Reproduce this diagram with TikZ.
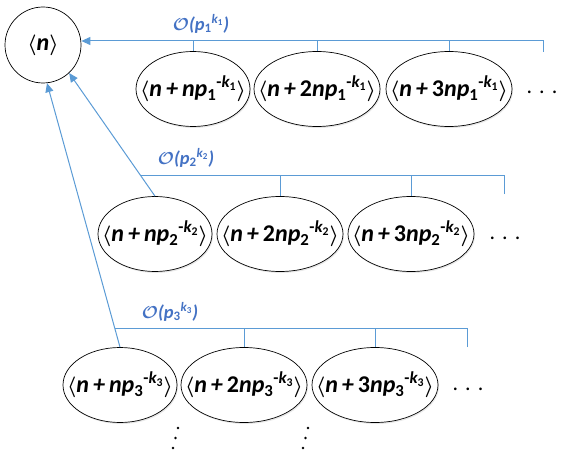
\documentclass[tikz,border=0pt]{standalone}
\usepackage{fontspec}
\setmainfont{Carlito}
\usepackage{amsmath}
\usetikzlibrary{shapes.geometric,arrows.meta,shadows}
\definecolor{lineblue}{RGB}{91,155,213}
\definecolor{textblue}{RGB}{68,114,196}
\newcommand{\lan}{{\fontsize{20}{24}\selectfont\boldmath$\langle$}}
\newcommand{\ran}{{\fontsize{20}{24}\selectfont\boldmath$\rangle$}}
\newcommand{\pki}[1]{\textit{p}\textsubscript{\textup{#1}}\textsuperscript{\textup{-}\textit{k}\textsubscript{\textup{#1}}}}
\newcommand{\opk}[1]{{\boldmath$\mathcal{O}$}(\textit{p}\textsubscript{\textup{#1}}\textsuperscript{\textit{k}\textsubscript{\textup{#1}}})}
\begin{document}
\begin{tikzpicture}[x=1pt,y=-1pt,
  ell/.style={ellipse,draw=black,line width=0.7pt,fill=white,inner sep=0pt,
    drop shadow={opacity=0.18,shadow xshift=1pt,shadow yshift=-1.5pt}},
  small/.style={ell,minimum width=114pt,minimum height=75pt},
  wide/.style={ell,minimum width=126pt,minimum height=75pt},
  txt/.style={inner sep=0pt,font=\fontsize{24}{28}\selectfont\bfseries\itshape},
  lbl/.style={inner sep=0pt,text=textblue,font=\fontsize{18.5}{22}\selectfont\bfseries\itshape},
  conn/.style={draw=lineblue,line width=1pt},
  arr/.style={conn,-{Triangle[length=9pt,width=8pt]}},
  dotsn/.style={inner sep=0pt,font=\fontsize{22}{26}\selectfont}
]
\useasboundingbox (0,0) rectangle (573,476);

% main circle
\node[circle,draw=black,line width=0.7pt,minimum size=76pt,inner sep=0pt] (n) at (43,45) {};
\node[txt] (nt) at (n) {\lan\textit{n}\ran};

% row 1
\node[small] (a1) at (193,89) {};
\node[wide]  (a2) at (317,89) {};
\node[wide]  (a3) at (449,89) {};
\node[txt] (a1t) at (a1) {\lan\textit{n}\,+\,\textit{n}\pki{1}\ran};
\node[txt] (a2t) at (a2) {\lan\textit{n}\,+\,\textup{2}\textit{n}\pki{1}\ran};
\node[txt] (a3t) at (a3) {\lan\textit{n}\,+\,\textup{3}\textit{n}\pki{1}\ran};
\node[dotsn] (a4) at (542,92) {.\hspace{7pt}.\hspace{7pt}.};
\node[lbl] (l1) at (201,24) {\opk{1}};
\coordinate (r1t) at (543,52);
\coordinate (r1e) at (543,41);
\draw[arr] (r1t) -- (r1e) -- (n.east |- r1e);
\foreach \e in {a1,a2,a3} \draw[conn] (\e.north) -- (\e.north |- r1e);

% row 2
\node[small] (b1) at (155,234) {};
\node[wide]  (b2) at (280,234) {};
\node[wide]  (b3) at (411,234) {};
\node[txt] (b1t) at (b1) {\lan\textit{n}\,+\,\textit{n}\pki{2}\ran};
\node[txt] (b2t) at (b2) {\lan\textit{n}\,+\,\textup{2}\textit{n}\pki{2}\ran};
\node[txt] (b3t) at (b3) {\lan\textit{n}\,+\,\textup{3}\textit{n}\pki{2}\ran};
\node[dotsn] (b4) at (505,238) {.\hspace{7pt}.\hspace{7pt}.};
\node[lbl] (l2) at (186,158) {\opk{2}};
\coordinate (r2t) at (504,194);
\coordinate (r2e) at (504,175);
\coordinate (h2s) at (141,175);
\draw[arr] (b1.north) -- (n.-47);
\draw[conn] (r2t) -- (r2e) -- (h2s);
\foreach \e in {b2,b3} \draw[conn] (\e.north) -- (\e.north |- r2e);

% row 3
\node[small] (c1) at (120,385) {};
\node[wide]  (c2) at (244,385) {};
\node[wide]  (c3) at (375,385) {};
\node[txt] (c1t) at (c1) {\lan\textit{n}\,+\,\textit{n}\pki{3}\ran};
\node[txt] (c2t) at (c2) {\lan\textit{n}\,+\,\textup{2}\textit{n}\pki{3}\ran};
\node[txt] (c3t) at (c3) {\lan\textit{n}\,+\,\textup{3}\textit{n}\pki{3}\ran};
\node[dotsn] (c4) at (468,389) {.\hspace{7pt}.\hspace{7pt}.};
\node[lbl] (l3) at (170,312) {\opk{3}};
\coordinate (r3t) at (467,347);
\coordinate (r3e) at (467,328);
\coordinate (h3s) at (114.5,328);
\draw[arr] (c1.north) -- (n.-84);
\draw[conn] (r3t) -- (r3e) -- (h3s);
\foreach \e in {c2,c3} \draw[conn] (\e.north) -- (\e.north |- r3e);

% vertical dots below row 3
\foreach \x/\y in {178/428,175.5/438,173/448,308/428,305.5/438,303/448}
  \fill[black] (\x,\y) circle (1.3pt);
\end{tikzpicture}
\end{document}
